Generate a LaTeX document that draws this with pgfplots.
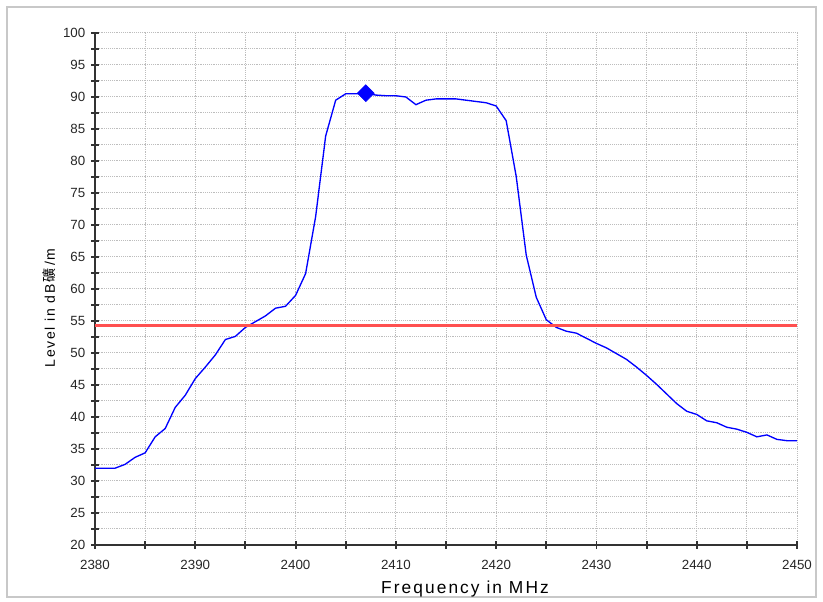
\documentclass[border=0pt]{standalone}
\usepackage{pgfplots}
\pgfplotsset{compat=1.18}
\usepackage{fontspec}
\setmainfont{Liberation Sans}
\newfontfamily\cjk{Noto Sans CJK SC}
\definecolor{axisgray}{HTML}{333333}
\definecolor{gridgray}{HTML}{BDBDBD}
\definecolor{limitred}{RGB}{255,80,80}
\definecolor{framegray}{HTML}{C8C8C8}
\begin{document}
\begin{tikzpicture}[x=1pt,y=1pt]
\useasboundingbox (0,0) rectangle (617.25,451.5);
\draw[framegray, line width=0.9pt] (5.25,3.75) rectangle (612,446.25);
\begin{axis}[
  at={(71.25pt,42.75pt)}, anchor=south west,
  scale only axis, width=526.5pt, height=384pt,
  xmin=2380, xmax=2450, ymin=20, ymax=100,
  xtick={2380,2390,...,2450}, minor xtick={2385,2395,...,2445},
  ytick={20,25,...,100}, minor ytick={22.5,27.5,...,97.5},
  grid=both,
  major grid style={densely dotted, gridgray, line width=0.75pt},
  minor grid style={densely dotted, gridgray, line width=0.75pt},
  axis lines*=left,
  axis line style={axisgray, line width=1.5pt},
  tick align=center,
  major tick length=5.5pt, minor tick length=5.5pt,
  every tick/.style={axisgray, line width=1.4pt},
  /pgf/number format/.cd, 1000 sep={}, assume math mode=true,
  /pgfplots/.cd,
  tick label style={font=\fontsize{10}{12}\selectfont, color=black!85},
  yticklabel style={xshift=-1pt},
  xticklabel style={yshift=-5pt},
  xlabel={\addfontfeature{LetterSpace=12}Frequency in MHz},
  xlabel style={at={(axis description cs:0.527,0)}, anchor=base, yshift=-36pt, font=\fontsize{13}{15}\selectfont},
  ylabel={\addfontfeature{LetterSpace=12}Level in dB\,{\cjk 礦}\,/m},
  ylabel style={at={(axis description cs:-0.057,0.463)}, anchor=base, font=\fontsize{10.5}{12}\selectfont},
  clip=false,
]
\addplot[blue, line width=1pt] table {
x y
2380 32.0
2381 32.0
2382 32.0
2383 32.6
2384 33.7
2385 34.4
2386 36.9
2387 38.2
2388 41.5
2389 43.4
2390 46.0
2391 47.8
2392 49.7
2393 52.1
2394 52.6
2395 54.0
2396 54.9
2397 55.8
2398 57.0
2399 57.3
2400 59.0
2401 62.4
2402 71.3
2403 83.9
2404 89.5
2405 90.5
2406 90.5
2407 90.6
2408 90.3
2409 90.2
2410 90.2
2411 90.0
2412 88.8
2413 89.5
2414 89.7
2415 89.7
2416 89.7
2417 89.5
2418 89.3
2419 89.1
2420 88.6
2421 86.3
2422 77.6
2423 65.3
2424 58.7
2425 55.2
2426 54.0
2427 53.4
2428 53.1
2429 52.3
2430 51.5
2431 50.8
2432 49.9
2433 49.0
2434 47.8
2435 46.5
2436 45.1
2437 43.6
2438 42.1
2439 40.9
2440 40.4
2441 39.4
2442 39.1
2443 38.4
2444 38.1
2445 37.6
2446 36.9
2447 37.2
2448 36.5
2449 36.3
2450 36.3
};
\addplot[limitred, line width=2.25pt] coordinates {(2380,54.3) (2450,54.3)};
\addplot[only marks, blue, mark=square*, mark size=4.5pt, mark options={rotate=45, fill=blue, draw=blue}] coordinates {(2407,90.6)};
\end{axis}
\end{tikzpicture}
\end{document}
